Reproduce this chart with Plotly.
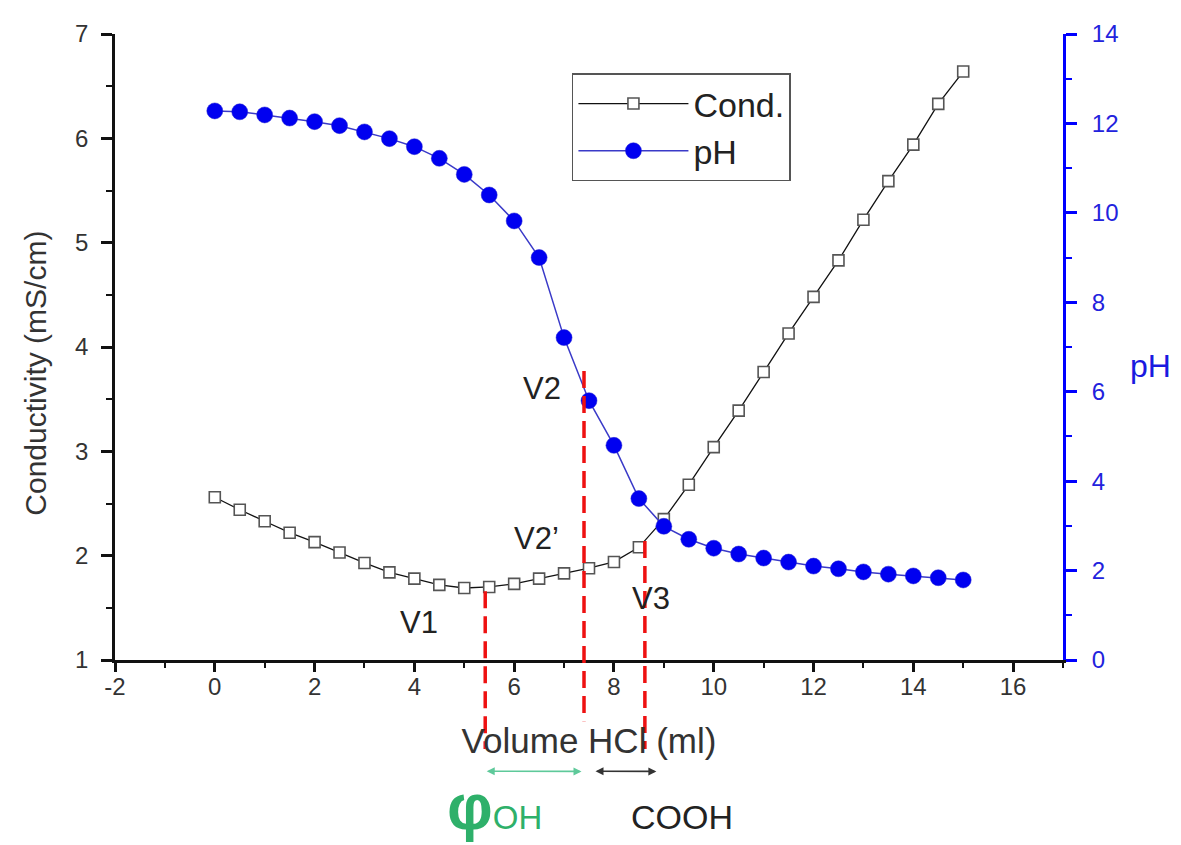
import plotly.graph_objects as go

# ---- data ----
volume = [0, 0.5, 1, 1.5, 2, 2.5, 3, 3.5, 4, 4.5, 5, 5.5, 6, 6.5, 7, 7.5, 8, 8.5,
          9, 9.5, 10, 10.5, 11, 11.5, 12, 12.5, 13, 13.5, 14, 14.5, 15]
cond = [2.56, 2.44, 2.33, 2.22, 2.13, 2.03, 1.93, 1.84, 1.78, 1.72, 1.69, 1.70,
        1.73, 1.78, 1.83, 1.88, 1.94, 2.08, 2.35, 2.68, 3.04, 3.39, 3.76, 4.13,
        4.48, 4.83, 5.22, 5.59, 5.94, 6.33, 6.64]
ph = [12.28, 12.26, 12.19, 12.12, 12.04, 11.95, 11.81, 11.66, 11.48, 11.22,
      10.86, 10.40, 9.82, 9.00, 7.21, 5.80, 4.80, 3.61, 2.99, 2.70, 2.50, 2.37,
      2.28, 2.19, 2.10, 2.04, 1.97, 1.92, 1.88, 1.84, 1.79]

x_tick_vals = [-2, 0, 2, 4, 6, 8, 10, 12, 14, 16]
x_tick_text = ["-2", "0", "2", "4", "6", "8", "10", "12", "14", "16"]

v_names = ["V1", "V2", "V3"]
v_x = [5.42, 7.40, 8.62]          # equivalence volumes (ml)
v_top = [1.66, 3.77, 2.14]        # conductivity where the marker line starts
v_bottom = [-0.142, -0.098, -0.142]  # paper fraction below the axis

labels_text = ["V1", "V2", "V2\u2019", "V3"]
labels_x = [4.1, 6.55, 6.45, 8.75]
labels_y = [1.36, 3.6, 2.16, 1.59]

x_range = [-2, 17]
y_range = [1, 7]
y2_range = [0, 14]

FONT = "Liberation Sans, Arial, sans-serif"
BLUE = "#1a1ae0"
GREEN_T = "#2eb06a"
GREEN_A = "#5ec99a"

fig = go.Figure()
fig.add_trace(go.Scatter(
    x=volume, y=cond, name="Cond.", mode="lines+markers",
    line=dict(color="#111111", width=1.3),
    marker=dict(symbol="square", size=11, color="white",
                line=dict(color="#555555", width=1.6)),
))
fig.add_trace(go.Scatter(
    x=volume, y=ph, name="pH", mode="lines+markers", yaxis="y2",
    line=dict(color="#3a3ac8", width=1.5),
    marker=dict(symbol="circle", size=16, color="#0000f0",
                line=dict(color="#2020d0", width=0.5)),
))

tickfont = dict(family=FONT, size=24, color="#333333")

fig.update_layout(
    width=1181, height=845,
    margin=dict(l=107, r=126, t=19, b=193),
    plot_bgcolor="white", paper_bgcolor="white",
    font=dict(family=FONT),
    showlegend=True,
    legend=dict(x=0.482, y=0.937, xanchor="left", yanchor="top",
                bordercolor="#555555", borderwidth=1.5, bgcolor="white",
                font=dict(family=FONT, size=34, color="#222222"),
                itemwidth=110, tracegroupgap=0),
    xaxis=dict(range=x_range, tickvals=x_tick_vals, ticktext=x_tick_text,
               showgrid=False, zeroline=False,
               showline=True, linecolor="#111111", linewidth=2.5,
               ticks="outside", ticklen=9, tickwidth=2.5, tickcolor="#111111",
               minor=dict(dtick=1, tick0=0, ticks="outside", ticklen=5,
                          tickwidth=2, tickcolor="#111111"),
               tickfont=tickfont, ticklabelstandoff=-6,
               title=dict(text="Volume HCl (ml)", standoff=30,
                          font=dict(family=FONT, size=35, color="#333333"))),
    xaxis2=dict(range=x_range, overlaying="x", side="top", anchor="y",
                dtick=2, tick0=0, showgrid=False, zeroline=False,
                showline=True, linecolor="#111111", linewidth=2.5,
                ticks="inside", ticklen=10, tickwidth=2.5, tickcolor="#111111",
                minor=dict(dtick=1, tick0=0, ticks="inside", ticklen=5,
                           tickwidth=2, tickcolor="#111111"),
                showticklabels=False),
    yaxis=dict(range=y_range, dtick=1, showgrid=False, zeroline=False,
               showline=True, linecolor="#111111", linewidth=2.5,
               ticks="outside", ticklen=11, tickwidth=2.5, tickcolor="#111111",
               minor=dict(dtick=0.5, ticks="outside", ticklen=6, tickwidth=2,
                          tickcolor="#111111"),
               tickfont=tickfont, ticklabelstandoff=8),
    yaxis2=dict(range=y2_range, dtick=2, overlaying="y", side="right",
                showgrid=False, zeroline=False,
                showline=True, linecolor="#0000ff", linewidth=3,
                ticks="outside", ticklen=11, tickwidth=2.5, tickcolor="#0000ff",
                minor=dict(dtick=1, ticks="outside", ticklen=6, tickwidth=2,
                           tickcolor="#0000ff"),
                tickfont=dict(family=FONT, size=24, color="#2222dd"),
                ticklabelstandoff=10),
)

# red dashed marker lines
for vx, vt, vb in zip(v_x, v_top, v_bottom):
    top_paper = (vt - y_range[0]) / (y_range[1] - y_range[0])
    fig.add_shape(type="line", xref="x", yref="paper", x0=vx, x1=vx,
                  y0=top_paper, y1=vb,
                  line=dict(color="#ee1111", width=3.5, dash="17px,8px"))

# V labels
for t, lx, ly in zip(labels_text, labels_x, labels_y):
    fig.add_annotation(x=lx, y=ly, xref="x", yref="y", text=t, showarrow=False,
                       font=dict(family=FONT, size=31, color="#222222"))

# left axis title (placed as annotation to match offset)
fig.add_annotation(x=-0.084, y=0.458, xref="paper", yref="paper",
                   xanchor="center", yanchor="middle", textangle=-90,
                   text="Conductivity (mS/cm)", showarrow=False,
                   font=dict(family=FONT, size=30, color="#333333"))

# pH axis label (horizontal)
fig.add_annotation(x=1.092, y=0.47, xref="paper", yref="paper", text="pH",
                   xanchor="center", yanchor="middle",
                   showarrow=False, font=dict(family=FONT, size=32, color=BLUE))

# range arrows below the axis
arrow_y = -0.178
fig.add_annotation(x=v_x[1] - 0.05, y=arrow_y, xref="x", yref="paper",
                   ax=v_x[0], ay=arrow_y, axref="x", ayref="pixel",
                   text="", showarrow=True, arrowside="end+start",
                   arrowhead=2, arrowsize=1, arrowwidth=1.6, arrowcolor=GREEN_A)
fig.add_annotation(x=8.85, y=arrow_y, xref="x", yref="paper",
                   ax=v_x[1] + 0.2, ay=arrow_y, axref="x", ayref="pixel",
                   text="", showarrow=True, arrowside="end+start",
                   arrowhead=2, arrowsize=1, arrowwidth=1.6, arrowcolor="#333333")

fig.add_annotation(x=5.6, y=-0.296, xref="x", yref="paper",
                   text="<b><span style='font-size:64px'>\u03c6</span></b>OH",
                   showarrow=False,
                   font=dict(family=FONT, size=33, color=GREEN_T))
fig.add_annotation(x=9.36, y=-0.285, xref="x", yref="paper", text="COOH",
                   showarrow=False,
                   font=dict(family=FONT, size=34, color="#222222"))

fig.write_html("out.html")
